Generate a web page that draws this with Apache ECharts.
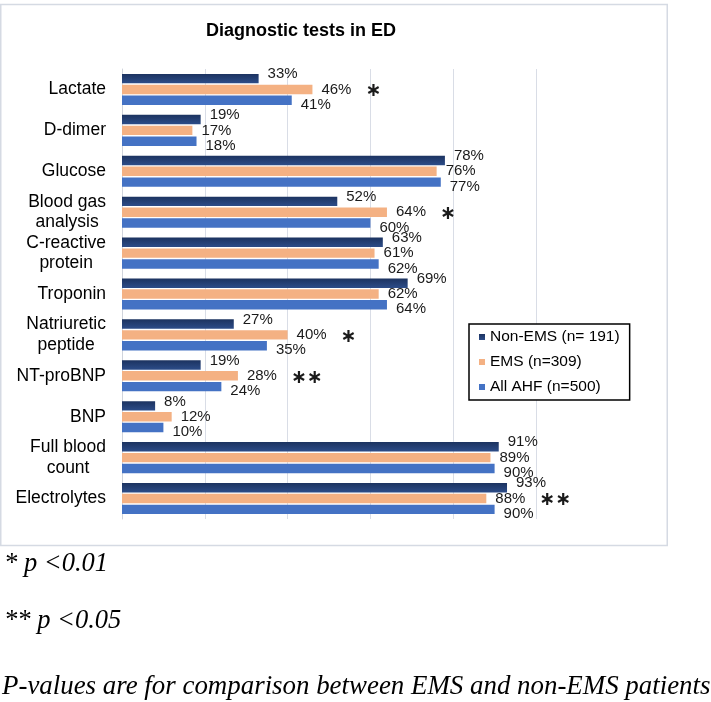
<!DOCTYPE html>
<html><head><meta charset="utf-8">
<script src="https://cdn.jsdelivr.net/npm/echarts@6/dist/echarts.min.js"></script>
<style>html,body{margin:0;padding:0;background:#fff}#c{width:711px;height:702px}</style>
</head><body><div id="c"></div>
<script>
const chartTitle = 'Diagnostic tests in ED';
const categories = ['Lactate','D-dimer','Glucose','Blood gas\nanalysis','C-reactive\nprotein','Troponin','Natriuretic\npeptide','NT-proBNP','BNP','Full blood\ncount','Electrolytes'];
const nonEMS = [33,19,78,52,63,69,27,19,8,91,93];
const ems    = [46,17,76,64,61,62,40,28,12,89,88];
const allAHF = [41,18,77,60,62,64,35,24,10,90,90];
const significance = ['*','','','*','','','*','**','','','**'];
const seriesNames = ['Non-EMS (n= 191)','EMS (n=309)','All AHF (n=500)'];
const xTicks = [0,20,40,60,80,100];
const footnotes = ['* p <0.01','** p <0.05','P-values are for comparison between EMS and non-EMS patients'];

const SANS = '"Liberation Sans", Arial, sans-serif';
const SERIF = '"Liberation Serif", "Times New Roman", serif';
const colors = [
  {type:'linear',x:0,y:0,x2:0,y2:1,colorStops:[{offset:0,color:'#1c3360'},{offset:1,color:'#2c4c88'}]},
  '#f4b183',
  '#4472c4'
];

function makeSeries(idx, data, dy, sig) {
  return {
    type:'bar', name: seriesNames[idx], data: data,
    barGap:'15%', barCategoryGap:'24%',
    itemStyle:{color: colors[idx]},
    label:{
      show:true, position:'right', distance:9, offset:[0,dy],
      color:'#1a1a1a', fontSize:15, fontFamily:SANS,
      formatter: function(p){
        let s = '{v|' + p.value + '%}';
        if (sig && sig[p.dataIndex]) s += '{s|' + sig[p.dataIndex].replace(/\*/g,'\u2217') + '}';
        return s;
      },
      rich:{
        v:{fontSize:15, fontFamily:SANS, color:'#1a1a1a', verticalAlign:'middle'},
        s:{fontSize:19, fontWeight:'bold', fontFamily:'"DejaVu Sans", sans-serif', color:'#1a1a1a', padding:[4,0,0,14], verticalAlign:'middle'}
      }
    }
  };
}

const chart = echarts.init(document.getElementById('c'));
chart.setOption({
  animation:false,
  backgroundColor:'#fff',
  grid:{left:122, top:69, width:414, height:450, containLabel:false, outerBoundsMode:'none'},
  xAxis:{type:'value', min:xTicks[0], max:xTicks[xTicks.length-1], interval:xTicks[1]-xTicks[0],
    axisLabel:{show:false}, axisLine:{show:false}, axisTick:{show:false},
    splitLine:{lineStyle:{color:'#d9dde6', width:1}}},
  yAxis:{type:'category', data:categories, inverse:true,
    axisTick:{show:false},
    axisLine:{lineStyle:{color:'#d0d4dc', width:1}},
    axisLabel:{margin:16, align:'right', color:'#000',
      formatter: function(v){ return v.split('\n').map(l => '{c|' + l + '}').join('\n'); },
      rich:{c:{align:'center', fontSize:17.5, fontFamily:SANS, color:'#000', lineHeight:20.5}}
    }},
  legend:{data:seriesNames, orient:'vertical', left:469, top:324,
    padding:[5,10,5,10], itemWidth:6, itemHeight:6, itemGap:9, icon:'rect',
    borderColor:'#000', borderWidth:1.5, backgroundColor:'#fff',
    textStyle:{fontSize:15.5, fontFamily:SANS, color:'#000'}},
  graphic:[
    {type:'rect', shape:{x:0.75, y:4.5, width:666.5, height:541}, style:{fill:'none', stroke:'#d5dae3', lineWidth:1.5}, z:-1},
    {type:'text', x:301, y:31.5, style:{text:chartTitle, fontSize:18, fontWeight:'bold', fontFamily:SANS, fill:'#000', textAlign:'center', textVerticalAlign:'middle'}},
    {type:'text', x:4, y:564, style:{text:footnotes[0], fontSize:26.5, fontStyle:'italic', fontFamily:SERIF, fill:'#000', textAlign:'left', textVerticalAlign:'middle'}},
    {type:'text', x:4, y:621, style:{text:footnotes[1], fontSize:26.5, fontStyle:'italic', fontFamily:SERIF, fill:'#000', textAlign:'left', textVerticalAlign:'middle'}},
    {type:'text', x:2, y:687, style:{text:footnotes[2], fontSize:26.9, fontStyle:'italic', fontFamily:SERIF, fill:'#000', textAlign:'left', textVerticalAlign:'middle'}}
  ],
  series:[
    makeSeries(0, nonEMS, -4.5, null),
    makeSeries(1, ems, 0, significance),
    makeSeries(2, allAHF, 4.5, null)
  ]
});
</script></body></html>
